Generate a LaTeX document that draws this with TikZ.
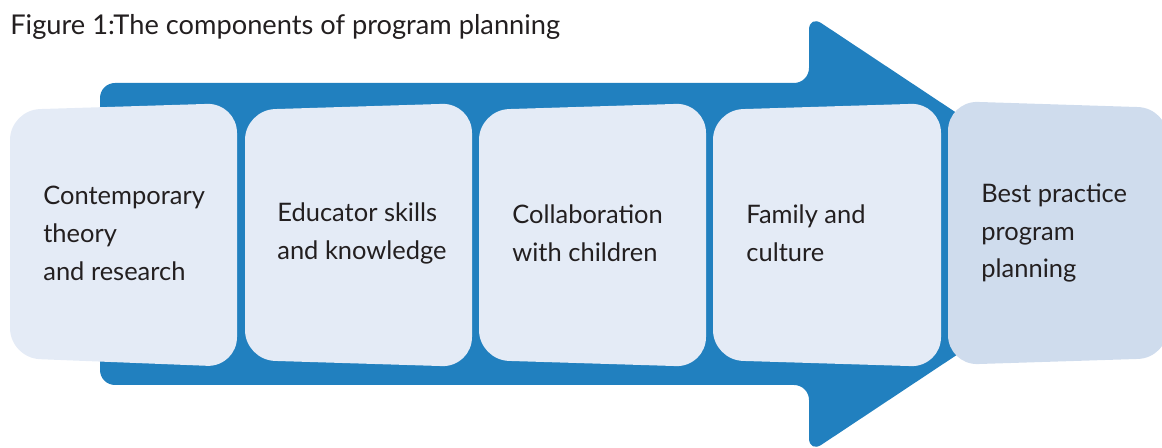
\documentclass[tikz,border=0pt]{standalone}
\usepackage{fontspec}
\setmainfont{Lato}
\definecolor{arrowblue}{HTML}{2180BF}
\definecolor{cardfill}{HTML}{E4EBF6}
\definecolor{goalfill}{HTML}{CFDCED}
\definecolor{inktext}{HTML}{231F20}

\begin{document}
\begin{tikzpicture}[x=0.02cm,y=-0.02cm,
  card/.style={fill=cardfill,rounded corners=0.6cm},
  goal/.style={fill=goalfill,rounded corners=0.6cm},
  cardtext/.style={anchor=west,align=left,inner sep=0pt,text=inktext,
    font=\fontsize{14.5}{21.6}\selectfont}]
  \clip (0,0) rectangle (1162,448);

  \fill[arrowblue,rounded corners=0.3cm] (100,83) -- (809,83) -- (809,15)
    -- (1139,234) -- (809,453) -- (809,385) -- (100,385) -- cycle;

  \fill[card] (10,110) -- (237,103) -- (237,367) -- (10,358) -- cycle;
  \fill[card] (245,110) -- (472,103) -- (472,367) -- (245,360) -- cycle;
  \fill[card] (479,110) -- (706,103) -- (706,367) -- (479,360) -- cycle;
  \fill[card] (713,110) -- (941,103) -- (941,367) -- (713,360) -- cycle;
  \fill[goal] (948,101) -- (1168,108) -- (1168,358) -- (948,365) -- cycle;

  \node[anchor=base west,inner sep=0pt,text=inktext,font=\fontsize{15.5}{19}\selectfont]
    (title) at (10,35) {Figure 1:The components of program planning};

  \node[cardtext] (theory) at (43,233) {Contemporary\\theory\\and research};
  \node[cardtext] (skills) at (277,233) {Educator skills\\and knowledge};
  \node[cardtext] (collab) at (512,233) {Collaboration\\with children};
  \node[cardtext] (family) at (746,233) {Family and\\culture};
  \node[cardtext] (best) at (981,233) {Best practice\\program\\planning};
\end{tikzpicture}
\end{document}
